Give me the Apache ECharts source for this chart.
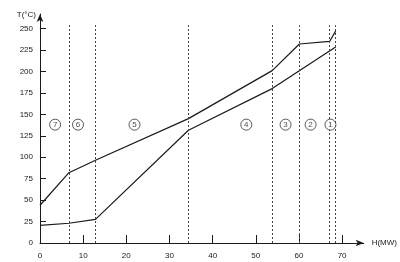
<!DOCTYPE html>
<html><head><meta charset="utf-8">
<script src="https://cdn.jsdelivr.net/npm/echarts@6/dist/echarts.min.js"></script>
<style>html,body{margin:0;padding:0;background:#fff}#c{width:400px;height:262px}</style>
</head><body><div id="c"></div>
<script>
// Data
var upperH = [0, 6.7, 12.85, 34.4, 53.8, 60.1, 67.1, 68.5];
var upperT = [44, 82, 96.5, 145, 201, 232, 235, 247];
var lowerH = [0, 6.7, 12.85, 34.4, 53.8, 68.5];
var lowerT = [20.5, 23, 27.5, 131.5, 180, 228.5];
var dividerH = [6.7, 12.85, 34.4, 53.8, 60.1, 67.1, 68.5];
var zoneLabels = ['7', '6', '5', '4', '3', '2', '1'];
var zoneH = [3.5, 8.8, 21.9, 47.8, 56.9, 62.7, 67.3];
var zoneT = 138;
var xTicks = [0, 10, 20, 30, 40, 50, 60, 70];
var yTicks = [0, 25, 50, 75, 100, 125, 150, 175, 200, 225, 250];
var dividerTop = 254;

var ink = '#1a1a1a';
var font = 'Liberation Sans';
function pairs(xs, ys){ return xs.map(function(x,i){ return [x, ys[i]]; }); }

var chart = echarts.init(document.getElementById('c'), null, {renderer:'canvas'});
chart.setOption({
  animation:false,
  backgroundColor:'#fff',
  grid:{left:40, right:35, top:14, bottom:19, containLabel:false},
  xAxis:{
    type:'value', min:0, max:75,
    name:'H(MW)', nameLocation:'end', nameGap:8,
    nameTextStyle:{color:ink, fontFamily:font, fontSize:8, verticalAlign:'middle'},
    axisLine:{show:true, lineStyle:{color:ink, width:1}, symbol:['none','arrow'], symbolSize:[5,8]},
    axisTick:{show:true, inside:true, length:8, lineStyle:{color:ink}, customValues:xTicks},
    axisLabel:{color:ink, fontFamily:font, fontSize:8, margin:9, customValues:xTicks},
    splitLine:{show:false}
  },
  yAxis:{
    type:'value', min:0, max:267,
    name:'T(°C)', nameLocation:'end', nameGap:-1,
    nameTextStyle:{color:ink, fontFamily:font, fontSize:8, align:'right', verticalAlign:'middle', padding:[0,4,0,0]},
    axisLine:{show:true, lineStyle:{color:ink, width:1}, symbol:['none','arrow'], symbolSize:[5,8]},
    axisTick:{show:true, inside:true, length:6, lineStyle:{color:ink}, customValues:yTicks},
    axisLabel:{color:ink, fontFamily:font, fontSize:8, margin:7, customValues:yTicks},
    splitLine:{show:false}
  },
  series:[
    {type:'line', data:pairs(upperH, upperT), showSymbol:false, symbol:'none',
     lineStyle:{color:ink, width:1.2}, z:3,
     markLine:{silent:true, symbol:['none','none'], label:{show:false},
       lineStyle:{color:'#444', width:1, type:[2,2]},
       data: dividerH.map(function(h){ return [{coord:[h,0]},{coord:[h,dividerTop]}]; })}
    },
    {type:'line', data:pairs(lowerH, lowerT), showSymbol:false, symbol:'none',
     lineStyle:{color:ink, width:1.2}, z:3},
    {type:'scatter', data:zoneH.map(function(h,i){ return {value:[h, zoneT], name:zoneLabels[i]}; }),
     symbol:'circle', symbolSize:11,
     itemStyle:{color:'#fff', borderColor:ink, borderWidth:0.9},
     label:{show:true, position:'inside', formatter:function(p){return p.name;},
       color:ink, fontFamily:font, fontSize:8},
     z:5}
  ]
});
</script></body></html>
